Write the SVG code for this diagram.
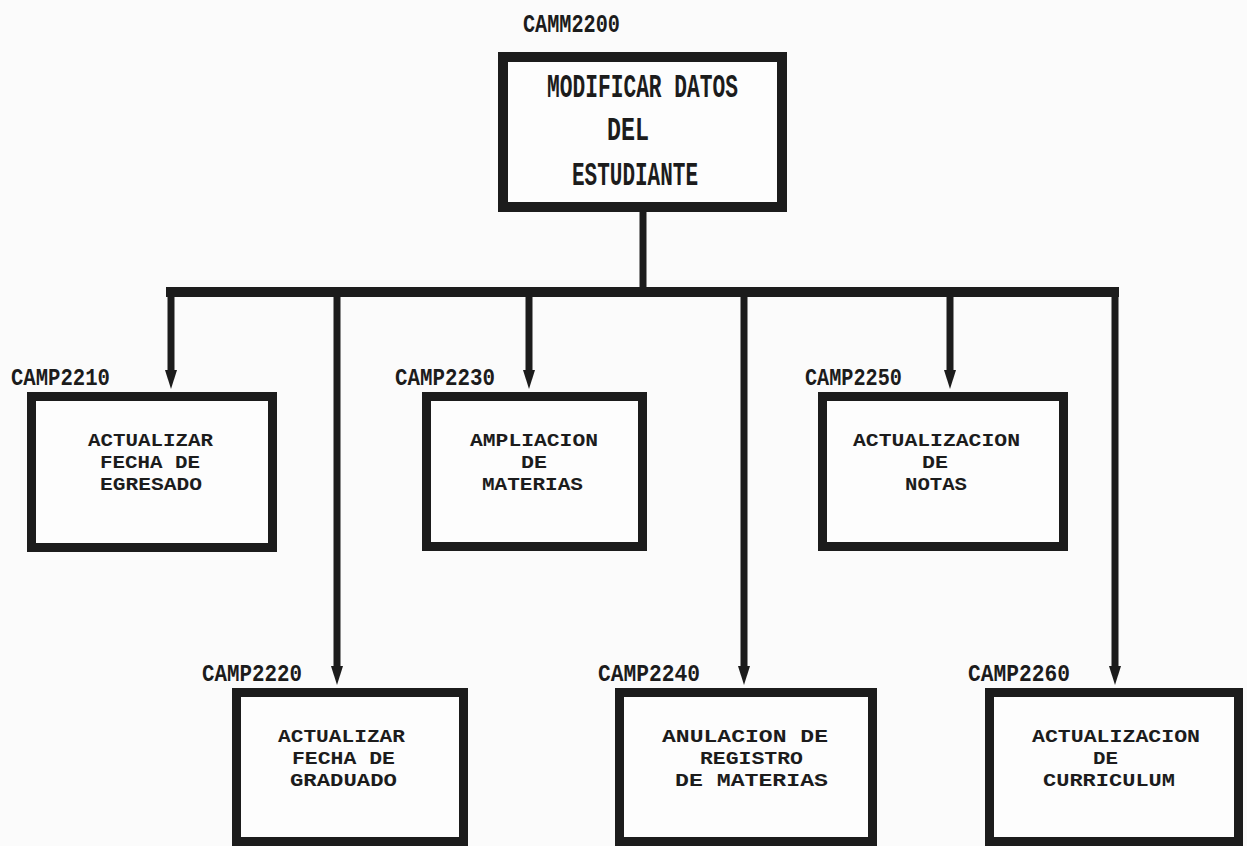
<svg xmlns="http://www.w3.org/2000/svg" width="1247" height="846" viewBox="0 0 1247 846">
<style>
.box{fill:#fdfdfd;stroke:#1c1c1c;stroke-width:9}
.t{font-family:"Liberation Mono","DejaVu Sans Mono",monospace;font-weight:bold;fill:#1c1c1c}
.lbl{font-size:23px}
.bt{font-size:19px}
.tt{font-size:33px}
.ln{fill:none;stroke:#1c1c1c;stroke-width:7}
</style>
<rect width="1247" height="846" fill="#fbfbfb"/>
<g id="connectors">
<line class="ln" x1="643" y1="210" x2="643" y2="292"/>
<line class="ln" x1="166" y1="292" x2="1119" y2="292" style="stroke-width:10"/>
<line class="ln" x1="171" y1="292" x2="171" y2="375"/>
<path d="M165,370 L177,370 L171,389 Z" fill="#1c1c1c"/>
<line class="ln" x1="337" y1="292" x2="337" y2="670"/>
<path d="M331,666 L343,666 L337,685 Z" fill="#1c1c1c"/>
<line class="ln" x1="529" y1="292" x2="529" y2="375"/>
<path d="M523,370 L535,370 L529,389 Z" fill="#1c1c1c"/>
<line class="ln" x1="744" y1="292" x2="744" y2="670"/>
<path d="M738,666 L750,666 L744,685 Z" fill="#1c1c1c"/>
<line class="ln" x1="950" y1="292" x2="950" y2="375"/>
<path d="M944,370 L956,370 L950,389 Z" fill="#1c1c1c"/>
<line class="ln" x1="1115" y1="292" x2="1115" y2="670"/>
<path d="M1109,666 L1121,666 L1115,685 Z" fill="#1c1c1c"/>
</g>
<g id="camm2200">
<text class="t" x="523" y="32" font-size="26" textLength="97" lengthAdjust="spacingAndGlyphs">CAMM2200</text>
<rect class="box" x="503" y="57" width="279" height="150" style="stroke-width:10"/>
<text class="t tt" x="547" y="97" textLength="191" lengthAdjust="spacingAndGlyphs">MODIFICAR DATOS</text>
<text class="t tt" x="607" y="140" textLength="42" lengthAdjust="spacingAndGlyphs">DEL</text>
<text class="t tt" x="572" y="185" textLength="126" lengthAdjust="spacingAndGlyphs">ESTUDIANTE</text>
</g>
<g id="camp2210">
<text class="t lbl" x="11" y="385" textLength="99" lengthAdjust="spacingAndGlyphs">CAMP2210</text>
<rect class="box" x="31.5" y="396.5" width="241" height="151"/>
<text class="t bt" x="88" y="446" textLength="125" lengthAdjust="spacingAndGlyphs">ACTUALIZAR</text>
<text class="t bt" x="100" y="468" textLength="100" lengthAdjust="spacingAndGlyphs">FECHA DE</text>
<text class="t bt" x="100" y="490" textLength="102" lengthAdjust="spacingAndGlyphs">EGRESADO</text>
</g>
<g id="camp2230">
<text class="t lbl" x="395" y="385" textLength="100" lengthAdjust="spacingAndGlyphs">CAMP2230</text>
<rect class="box" x="426.5" y="396.5" width="216" height="150"/>
<text class="t bt" x="470" y="446" textLength="128" lengthAdjust="spacingAndGlyphs">AMPLIACION</text>
<text class="t bt" x="521" y="468" textLength="26" lengthAdjust="spacingAndGlyphs">DE</text>
<text class="t bt" x="482" y="490" textLength="101" lengthAdjust="spacingAndGlyphs">MATERIAS</text>
</g>
<g id="camp2250">
<text class="t lbl" x="805" y="385" textLength="97" lengthAdjust="spacingAndGlyphs">CAMP2250</text>
<rect class="box" x="822.5" y="396.5" width="241" height="150"/>
<text class="t bt" x="853" y="446" textLength="167" lengthAdjust="spacingAndGlyphs">ACTUALIZACION</text>
<text class="t bt" x="922" y="468" textLength="26" lengthAdjust="spacingAndGlyphs">DE</text>
<text class="t bt" x="905" y="490" textLength="62" lengthAdjust="spacingAndGlyphs">NOTAS</text>
</g>
<g id="camp2220">
<text class="t lbl" x="202" y="681" textLength="100" lengthAdjust="spacingAndGlyphs">CAMP2220</text>
<rect class="box" x="236.5" y="692.5" width="227" height="149"/>
<text class="t bt" x="278" y="742" textLength="127" lengthAdjust="spacingAndGlyphs">ACTUALIZAR</text>
<text class="t bt" x="292" y="764" textLength="103" lengthAdjust="spacingAndGlyphs">FECHA DE</text>
<text class="t bt" x="290" y="786" textLength="107" lengthAdjust="spacingAndGlyphs">GRADUADO</text>
</g>
<g id="camp2240">
<text class="t lbl" x="598" y="681" textLength="102" lengthAdjust="spacingAndGlyphs">CAMP2240</text>
<rect class="box" x="619.5" y="692.5" width="253" height="149"/>
<text class="t bt" x="662" y="742" textLength="166" lengthAdjust="spacingAndGlyphs">ANULACION DE</text>
<text class="t bt" x="700" y="764" textLength="103" lengthAdjust="spacingAndGlyphs">REGISTRO</text>
<text class="t bt" x="675" y="786" textLength="153" lengthAdjust="spacingAndGlyphs">DE MATERIAS</text>
</g>
<g id="camp2260">
<text class="t lbl" x="968" y="681" textLength="102" lengthAdjust="spacingAndGlyphs">CAMP2260</text>
<rect class="box" x="989.5" y="692.5" width="249" height="149"/>
<text class="t bt" x="1032" y="742" textLength="168" lengthAdjust="spacingAndGlyphs">ACTUALIZACION</text>
<text class="t bt" x="1093" y="764" textLength="25" lengthAdjust="spacingAndGlyphs">DE</text>
<text class="t bt" x="1043" y="786" textLength="132" lengthAdjust="spacingAndGlyphs">CURRICULUM</text>
</g>
</svg>
